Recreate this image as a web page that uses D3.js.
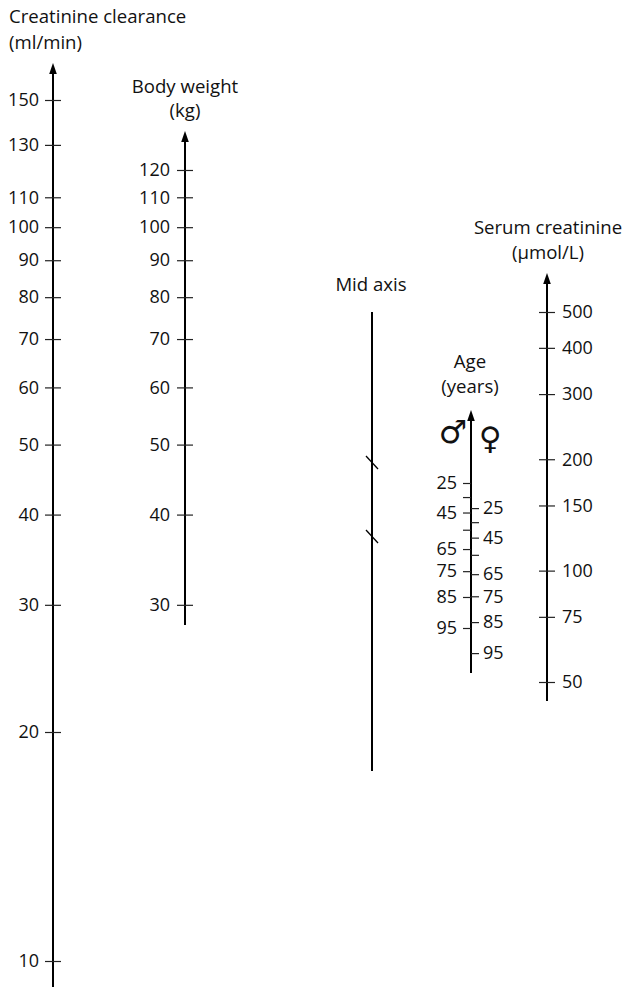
<!DOCTYPE html>
<html>
<head>
<meta charset="utf-8">
<script src="https://cdn.jsdelivr.net/npm/d3@7"></script>
<style>
  html, body { margin: 0; padding: 0; background: #fff; }
  svg { display: block; }
  text { font-family: "Open Sans", "Noto Sans", sans-serif; fill: #111; }
</style>
</head>
<body>
<svg id="chart" width="623" height="987"></svg>
<script>
// Tick values of each nomogram scale
const crclTicks = [150, 130, 110, 100, 90, 80, 70, 60, 50, 40, 30, 20, 10];
const weightTicks = [120, 110, 100, 90, 80, 70, 60, 50, 40, 30];
const serumTicks = [500, 400, 300, 200, 150, 100, 75, 50];
const ageLabelled = [25, 45, 65, 75, 85, 95];
const ageMinor = [35, 55];
const femaleFactor = 0.85;          // Cockcroft-Gault correction for women
const midAxisMarks = [0.328, 0.489]; // reference slashes along the pivot line (fraction of its length)

const svg = d3.select("#chart");
const FONT = 18;
const HEAD_FONT = 18.6;

// Layout of the five vertical lines
const axesLayout = {
  crcl:   { x: 53,  top: 63,  bottom: 987 },
  weight: { x: 185, top: 131, bottom: 625 },
  mid:    { x: 372, top: 312, bottom: 771 },
  age:    { x: 471, top: 410, bottom: 673 },
  serum:  { x: 547, top: 273, bottom: 701 }
};

// Logarithmic scales of the nomogram
const crclY = d3.scaleLog().domain([10, 20, 150]).range([961, 732, 100]);
const weightY = crclY.copy();
const serumY = d3.scaleLog().domain([50, 500]).range([682, 312]);
// Age enters the formula as (140 - age); women get an extra factor
const ageY = d3.scaleLog().domain([115, 45]).range([483, 628]);

function drawLine(l, arrow) {
  const g = svg.append("g");
  g.append("line")
    .attr("x1", l.x).attr("x2", l.x)
    .attr("y1", arrow ? l.top + 6 : l.top).attr("y2", l.bottom)
    .attr("stroke", "#000").attr("stroke-width", 2);
  if (arrow) {
    g.append("path")
      .attr("d", `M${l.x},${l.top} L${l.x - 3.8},${l.top + 11} L${l.x + 3.8},${l.top + 11} Z`)
      .attr("fill", "#000");
  }
}

function styleAxis(g, crossing) {
  g.select(".domain").remove();
  g.selectAll(".tick line")
    .attr("stroke", "#222").attr("stroke-width", 1.2);
  if (crossing) {
    g.selectAll(".tick line").attr("x1", -8).attr("x2", 8);
  }
  g.selectAll(".tick text")
    .attr("font-family", "'Open Sans', 'Noto Sans', sans-serif")
    .attr("font-size", FONT)
    .attr("fill", "#111");
  g.attr("font-family", null).attr("font-size", null);
}

// Creatinine clearance
drawLine(axesLayout.crcl, true);
svg.append("g")
  .attr("transform", `translate(${axesLayout.crcl.x},0)`)
  .call(d3.axisLeft(crclY).tickValues(crclTicks).tickFormat(d3.format("d")).tickSize(8).tickPadding(6))
  .call(g => styleAxis(g, true));

// Body weight
drawLine(axesLayout.weight, true);
svg.append("g")
  .attr("transform", `translate(${axesLayout.weight.x},0)`)
  .call(d3.axisLeft(weightY).tickValues(weightTicks).tickFormat(d3.format("d")).tickSize(8).tickPadding(7))
  .call(g => styleAxis(g, true));

// Serum creatinine
drawLine(axesLayout.serum, true);
svg.append("g")
  .attr("transform", `translate(${axesLayout.serum.x},0)`)
  .call(d3.axisRight(serumY).tickValues(serumTicks).tickFormat(d3.format("d")).tickSize(8).tickPadding(7))
  .call(g => styleAxis(g, true));

// Age: men on the left side, women on the right side
drawLine(axesLayout.age, true);
const maleAxis = d3.axisLeft(ageY)
  .tickValues(ageLabelled.map(a => 140 - a))
  .tickFormat(v => Math.round(140 - v))
  .tickSize(8).tickPadding(6);
svg.append("g").attr("transform", `translate(${axesLayout.age.x},0)`)
  .call(maleAxis).call(g => styleAxis(g, false));
svg.append("g").attr("transform", `translate(${axesLayout.age.x},0)`)
  .call(d3.axisLeft(ageY).tickValues(ageMinor.map(a => 140 - a)).tickFormat("").tickSize(8))
  .call(g => styleAxis(g, false));

const femaleAxis = d3.axisRight(ageY)
  .tickValues(ageLabelled.map(a => (140 - a) * femaleFactor))
  .tickFormat(v => Math.round(140 - v / femaleFactor))
  .tickSize(8).tickPadding(4);
svg.append("g").attr("transform", `translate(${axesLayout.age.x},0)`)
  .call(femaleAxis).call(g => styleAxis(g, false));
svg.append("g").attr("transform", `translate(${axesLayout.age.x},0)`)
  .call(d3.axisRight(ageY).tickValues(ageMinor.map(a => (140 - a) * femaleFactor)).tickFormat("").tickSize(8))
  .call(g => styleAxis(g, false));

// Mid (pivot) axis with its two slashes
drawLine(axesLayout.mid, false);
const midY = d3.scaleLinear().domain([0, 1]).range([axesLayout.mid.top, axesLayout.mid.bottom]);
svg.append("g").selectAll("line").data(midAxisMarks).join("line")
  .attr("x1", axesLayout.mid.x - 6).attr("x2", axesLayout.mid.x + 6)
  .attr("y1", d => midY(d) - 6.5).attr("y2", d => midY(d) + 6.5)
  .attr("stroke", "#000").attr("stroke-width", 1.3);

// Headings
function heading(lines, x, y0, anchor, gap) {
  const t = svg.append("text").attr("font-size", HEAD_FONT).attr("text-anchor", anchor);
  lines.forEach((s, i) => t.append("tspan").attr("x", x).attr("y", y0 + i * gap).text(s));
}
heading(["Creatinine clearance", "(ml/min)"], 9, 23, "start", 26);
heading(["Body weight", "(kg)"], 185, 93, "middle", 24);
heading(["Mid axis"], 371, 291, "middle", 25);
heading(["Age", "(years)"], 470, 368, "middle", 25);
heading(["Serum creatinine", "(µmol/L)"], 548, 234, "middle", 25);

// Sex symbols beside the age axis
svg.append("text").attr("x", 453).attr("y", 443)
  .attr("text-anchor", "middle").attr("font-size", 32)
  .style("font-family", "'DejaVu Sans', sans-serif").text("♂");
svg.append("text").attr("x", 490).attr("y", 449)
  .attr("text-anchor", "middle").attr("font-size", 31)
  .style("font-family", "'DejaVu Sans', sans-serif").text("♀");
</script>
</body>
</html>
